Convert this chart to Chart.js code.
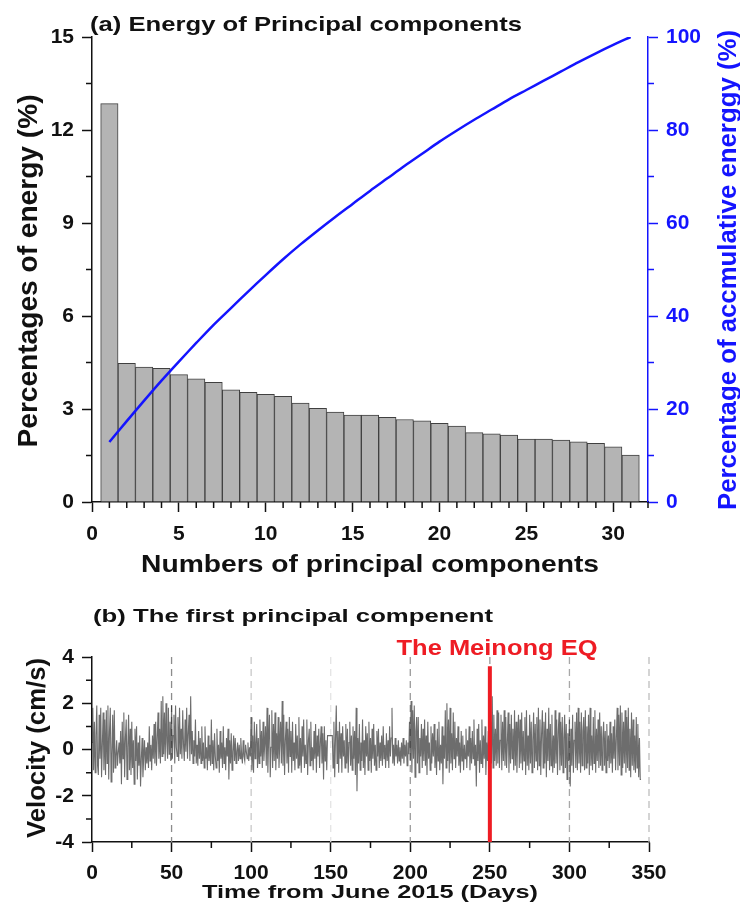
<!DOCTYPE html>
<html>
<head>
<meta charset="utf-8">
<script src="https://cdn.jsdelivr.net/npm/chart.js@4.4.0/dist/chart.umd.min.js"></script>
<style>
  html, body { margin: 0; padding: 0; background: #fff; }
  #painel { position: relative; width: 740px; height: 918px; }
  canvas { position: absolute; left: 0; }
  #graficoA { top: 0; }
  #graficoB { top: 585px; }
</style>
</head>
<body>
<div id="painel">
  <canvas id="graficoA" width="740" height="585"></canvas>
  <canvas id="graficoB" width="740" height="333"></canvas>
</div>
<script>
// ---- dados do painel (a): energia dos componentes principais ----
const componentes = [1, 2, 3, 4, 5, 6, 7, 8, 9, 10, 11, 12, 13, 14, 15, 16,
  17, 18, 19, 20, 21, 22, 23, 24, 25, 26, 27, 28, 29, 30, 31];
const energia = [12.85, 4.47, 4.35, 4.31, 4.11, 3.97, 3.86, 3.62, 3.54, 3.47, 3.41,
  3.19, 3.02, 2.90, 2.80, 2.80, 2.73, 2.66, 2.62, 2.54, 2.45, 2.24, 2.20, 2.16,
  2.03, 2.03, 2.00, 1.94, 1.89, 1.78, 1.51];
const acumulada = [12.9, 17.4, 21.8, 26.1, 30.2, 34.2, 38.1, 41.7, 45.3, 48.8, 52.2,
  55.4, 58.4, 61.3, 64.1, 66.9, 69.6, 72.3, 74.9, 77.5, 79.9, 82.2, 84.4, 86.6,
  88.6, 90.6, 92.6, 94.6, 96.5, 98.3, 100];
const ticksEnergia = [0, 3, 6, 9, 12, 15];
const ticksAcumulada = [0, 20, 40, 60, 80, 100];

// ---- dados do painel (b): primeira componente principal ----
const diaInicial = 0;
const passoDias = 0.5;
const velocidade = [
  0.3, 1.8, -0.9, 1.2, -1.0, 0.6, 1.9, -0.7, -1.1, 1.5,
  -0.4, 1.8, -1.2, 0.2, 1.6, -0.9, 1.3, -1.1, 1.7, -0.6,
  1.9, -1.3, 0.8, 1.8, -1.4, -0.2, 1.5, -1.0, 1.7, -0.8,
  -0.3, 0.4, -0.7, -0.1, 0.3, -0.6, 0.8, -1.5, 1.2, -0.4,
  1.6, -1.2, 0.5, 1.3, -1.3, 0.1, 1.5, -0.9, 0.9, -1.1,
  1.2, -0.8, 0.4, -1.5, 0.9, -0.5, 1.0, -1.3, 0.3, -0.7,
  0.6, -1.6, -0.4, 0.5, -1.2, -0.3, 0.4, -0.9, 0.1, -0.6,
  0.3, -0.8, 1.0, -0.5, 0.2, -0.9, 0.6, -0.4, 1.1, -0.6,
  1.2, -0.7, 0.5, 1.6, -0.4, 0.9, -0.6, 2.1, -0.3, 2.3,
  -0.2, 1.6, -0.5, 2.0, 0.3, -0.4, 1.8, -0.2, 1.2, -0.5,
  1.9, -0.4, 0.6, 1.5, -0.6, 1.9, 0.1, -0.3, 1.4, -0.5,
  1.8, -0.2, 0.9, -0.4, 1.7, 0.2, -0.5, 1.3, -0.1, 1.8,
  -0.4, 0.7, 1.5, -0.5, 2.3, -0.2, 0.8, -0.6, 0.4, -0.3,
  1.3, -0.6, 0.2, -0.7, 0.8, -0.4, 0.5, -0.6, 1.0, -0.5,
  0.3, -0.8, 1.0, -0.4, 0.1, -0.9, 0.6, -0.5, 0.2, -0.7,
  1.3, -0.6, 0.4, -0.9, 0.7, -0.3, -0.8, 0.9, -0.5, 0.2,
  -1.0, 0.8, -0.4, 0.3, -0.8, 1.0, -0.6, 0.1, -0.9, 0.5,
  -0.3, 0.9, -1.3, 0.4, -0.6, 0.7, -0.9, -0.1, 0.6, -0.5,
  0.5, -0.6, -0.1, 0.3, -0.5, 0.2, -0.4, 0.5, -0.2, -0.6,
  0.4, -0.3, -0.5, 0.2, -0.1, -0.4, 0.3, -0.5, 0.1, -0.3,
  1.4, -0.9, 0.6, -1.0, 1.2, -0.4, 0.3, 1.1, -0.8, 0.5,
  -0.6, 1.3, -0.3, 0.8, -0.8, 1.2, -0.5, 0.2, 1.0, -0.7,
  1.8, -1.0, 0.5, 1.5, -1.2, 0.1, 1.7, -0.8, 1.1, -0.5,
  1.6, -0.9, 0.7, -0.4, 1.4, -0.8, 0.3, 1.2, -0.6, 2.1,
  -0.7, 1.5, -1.1, 0.4, 1.2, -0.6, 0.9, -1.0, 1.4, -0.3,
  0.8, -1.0, 1.2, -0.5, 0.3, -0.9, 1.1, -0.4, 0.6, -0.8,
  1.4, -0.7, 0.5, -1.0, 1.0, -0.3, 1.3, -0.8, 0.2, -0.6,
  1.3, -1.1, 0.4, 0.9, -0.7, 1.2, -0.5, 0.1, -0.9, 0.8,
  -0.4, 1.1, -1.0, 0.6, -0.3, 0.9, -0.8, 0.3, 1.0, -0.6,
  0.7, -1.3, 1.0, -0.5, 0.4, -0.9, 0.6, 0.6, 0.6, 0.6,
  0.6, 0.6, 0.6, -0.8, 1.2, -1.2, 0.5, 1.9, -0.6, 0.8,
  -1.0, 1.2, -0.4, 0.7, -1.0, 1.0, -0.3, 0.4, -0.8, 1.1,
  -0.6, 0.9, -1.0, 0.3, 1.2, -0.7, 0.6, -0.9, 1.0, -0.4,
  0.8, -1.1, 1.8, -1.8, 0.5, -0.6, 1.1, -0.9, 0.3, -0.5,
  1.3, -0.8, 0.4, -1.1, 1.0, -0.3, 0.7, -0.9, 1.2, -0.5,
  0.5, -1.0, 0.9, -0.4, 1.1, -0.7, 0.2, -0.9, 0.8, -0.3,
  0.9, -0.8, 0.3, -0.5, 0.6, -0.7, 1.0, -0.4, 0.2, -0.8,
  0.7, -0.5, 0.4, -0.8, 1.0, -0.3, 0.5, 1.8, -0.6, 0.2,
  -0.7, 0.5, -0.3, 0.2, -0.6, 0.4, -0.5, 0.1, -0.7, 0.3,
  -0.4, 0.5, -0.6, 0.2, -0.3, 0.4, -0.7, 0.3, -0.2, 1.2,
  -0.5, 2.1, -1.0, 1.7, -0.4, 1.9, -1.2, 0.8, 1.4, -0.6,
  1.4, -1.0, 0.5, -0.3, 1.1, -0.8, 0.9, -0.5, 1.3, -0.7,
  0.6, -1.1, 1.2, -0.4, 0.3, -0.9, 1.0, -0.6, 0.7, -0.3,
  1.1, -0.8, 0.4, -1.1, 0.9, -0.5, 1.2, -0.9, 0.2, -0.6,
  1.0, -1.5, 0.6, -0.4, 1.7, -0.8, 2.0, -0.5, 1.3, -1.0,
  1.8, -0.6, 0.7, -0.9, 1.6, -0.4, 1.2, -0.8, 0.5, -0.3,
  1.0, -0.7, 0.3, -1.0, 0.8, -0.5, 0.6, -0.9, 0.2, -0.4,
  0.9, -0.8, 0.4, -0.3, 1.0, -0.9, 0.5, -0.6, 0.8, -0.4,
  1.3, -0.7, 0.2, -1.6, 0.9, -0.5, 1.1, -1.0, 0.4, -0.6,
  1.3, -0.8, 0.6, -0.4, 1.0, -1.1, 0.3, -0.5, 0.8, -0.2,
  -0.3, 1.2, -0.6, 2.3, -0.8, 1.5, -0.5, 0.9, -0.7, 1.7,
  -0.6, 1.6, -0.8, 0.4, 1.5, -0.9, 1.2, -0.5, 1.7, -0.7,
  1.4, -0.8, 0.3, 1.6, -1.0, 1.1, -0.6, 1.5, -0.4, 0.9,
  -0.9, 1.7, -0.7, 1.2, -1.0, 0.5, 1.5, -0.8, 1.3, -0.6,
  1.6, -0.9, 0.8, -0.5, 1.4, -1.1, 1.7, -0.7, 0.6, -0.9,
  1.5, -0.6, 1.2, -1.0, 0.4, 1.6, -0.8, 1.1, -0.5, 1.4,
  -0.9, 1.8, -0.7, 1.3, -1.1, 0.7, 1.7, -0.8, 1.2, -0.6,
  1.6, -1.2, 0.9, -0.5, 1.8, -0.9, 1.1, -0.7, 1.5, -1.0,
  0.6, -0.8, 1.7, -0.6, 1.3, -1.1, 0.8, 1.6, -0.9, 1.2,
  -0.7, 1.4, -1.0, 0.5, 1.5, -0.8, 1.1, -1.3, 0.7, -0.5,
  1.3, -1.6, 0.9, -0.7, 1.5, -1.0, 0.4, 1.2, -0.8, 1.6,
  -0.9, 1.8, -0.6, 1.2, -1.0, 1.6, -0.7, 0.8, 1.4, -0.9,
  1.7, -0.8, 1.0, -0.6, 1.5, -1.1, 1.8, -0.7, 0.6, -0.9,
  1.4, -0.6, 1.7, -1.0, 0.9, -0.5, 1.3, -0.8, 1.6, -0.7,
  1.0, -0.9, 0.5, 1.2, -0.7, 0.8, -1.0, 1.1, -0.5, 0.6,
  -0.8, 1.2, -0.6, 0.7, -1.0, 1.0, -0.4, 1.3, -0.9, 0.5,
  1.8, -0.9, 1.5, -0.7, 1.9, -1.1, 1.6, -0.8, 1.2, -0.6,
  1.7, -1.0, 1.4, -0.8, 1.8, -0.9, 0.9, -1.2, 1.6, -0.7,
  1.3, -0.9, 0.6, -1.0, 1.4, -0.8, 1.1, -1.2, 0.5, -1.3,
  -1.3
];
const diaTerremoto = 250;
const topoTerremoto = 3.6;
const diasTracejados = [50, 100, 150, 200, 250, 300, 350];
const ticksDias = [0, 50, 100, 150, 200, 250, 300, 350];
const ticksVelocidade = [-4, -2, 0, 2, 4];

// ---- estilos ----
const FONTE = '"Liberation Sans", Arial, sans-serif';
const AZUL = '#1414ff';
const PRETO = '#111111';
const coresTracejado = ['#8c8c8c', '#c8c8c8', '#e4e4e4', '#9a9a9a', '#9a9a9a', '#a8a8a8', '#bdbdbd'];

// valores para as marcas menores dos eixos (so posicoes de ticks)
function valoresEntre(de, ate, passo, pular) {
  const v = [];
  for (let x = de; x <= ate + 1e-9; x += passo) {
    if (!pular || Math.abs(x / pular - Math.round(x / pular)) > 1e-6) v.push(x);
  }
  return v;
}

// Desenha marcas menores dos eixos
function pluginMarcasMenores(marcas) {
  return {
    id: 'marcasMenores',
    afterDraw(chart) {
      const ctx = chart.ctx;
      ctx.save();
      ctx.lineWidth = 1.5;
      marcas.forEach(m => {
        const escala = chart.scales[m.eixo];
        ctx.strokeStyle = m.cor;
        ctx.beginPath();
        m.valores.forEach(v => {
          const p = escala.getPixelForValue(v);
          if (m.lado === 'baixo') {
            ctx.moveTo(p, escala.top);
            ctx.lineTo(p, escala.top + m.comp);
          } else if (m.lado === 'esquerda') {
            ctx.moveTo(escala.right, p);
            ctx.lineTo(escala.right - m.comp, p);
          } else {
            ctx.moveTo(escala.left, p);
            ctx.lineTo(escala.left + m.comp, p);
          }
        });
        ctx.stroke();
      });
      ctx.restore();
    }
  };
}

// Textos (titulos e rotulos dos eixos), com largura ajustada
function pluginTextos(itens) {
  return {
    id: 'textos',
    afterDraw(chart) {
      const ctx = chart.ctx;
      itens.forEach(t => {
        ctx.save();
        ctx.font = t.fonte;
        ctx.fillStyle = t.cor || PRETO;
        ctx.textAlign = t.alinhar || 'left';
        ctx.textBaseline = 'alphabetic';
        ctx.translate(t.x, t.y);
        if (t.rot) ctx.rotate(t.rot);
        if (t.largura) {
          const w = ctx.measureText(t.texto).width;
          ctx.scale(t.largura / w, 1);
        }
        ctx.fillText(t.texto, 0, 0);
        ctx.restore();
      });
    }
  };
}

// Linhas verticais tracejadas do painel (b)
const pluginTracejado = {
  id: 'tracejado',
  beforeDatasetsDraw(chart) {
    const { ctx, chartArea, scales } = chart;
    ctx.save();
    ctx.setLineDash([7, 5]);
    ctx.lineWidth = 1.3;
    diasTracejados.forEach((d, i) => {
      const x = scales.x.getPixelForValue(d);
      ctx.strokeStyle = coresTracejado[i];
      ctx.beginPath();
      ctx.moveTo(x, chartArea.top);
      ctx.lineTo(x, chartArea.bottom);
      ctx.stroke();
    });
    ctx.restore();
  }
};

const fonteTick = { family: FONTE, size: 21, weight: 'bold' };

// ---------------- Painel (a) ----------------
new Chart(document.getElementById('graficoA'), {
  type: 'bar',
  data: {
    datasets: [
      {
        type: 'line',
        data: componentes.map((c, i) => ({ x: c, y: acumulada[i] })),
        yAxisID: 'y1',
        borderColor: AZUL,
        borderWidth: 2.5,
        pointRadius: 0,
        tension: 0.3,
        order: 0
      },
      {
        type: 'bar',
        data: componentes.map((c, i) => ({ x: c, y: energia[i] })),
        yAxisID: 'y',
        backgroundColor: '#b4b4b4',
        borderColor: '#404040',
        borderWidth: 1,
        barPercentage: 1,
        categoryPercentage: 1,
        order: 1
      }
    ]
  },
  options: {
    responsive: false,
    animation: false,
    layout: { padding: { top: 37, left: 0, right: 0, bottom: 0 } },
    plugins: { legend: { display: false }, tooltip: { enabled: false } },
    scales: {
      x: {
        type: 'linear',
        min: 0,
        max: 32,
        offset: false,
        afterFit(s) { s.height = 83; },
        grid: { drawOnChartArea: false, offset: false, tickLength: 10, tickColor: PRETO, tickWidth: 1.5 },
        border: { color: PRETO, width: 1.5 },
        ticks: { stepSize: 5, includeBounds: false, autoSkip: false, maxRotation: 0, padding: 10, color: PRETO, font: fonteTick }
      },
      y: {
        position: 'left',
        min: 0,
        max: 15,
        afterFit(s) { s.width = 92; },
        afterBuildTicks(s) { s.ticks = ticksEnergia.map(v => ({ value: v })); },
        grid: { drawOnChartArea: false, tickLength: 10, tickColor: PRETO, tickWidth: 1.5 },
        border: { color: PRETO, width: 1.5 },
        ticks: { padding: 8, color: PRETO, font: fonteTick }
      },
      y1: {
        position: 'right',
        min: 0,
        max: 100,
        afterFit(s) { s.width = 92; },
        afterBuildTicks(s) { s.ticks = ticksAcumulada.map(v => ({ value: v })); },
        grid: { drawOnChartArea: false, tickLength: 10, tickColor: AZUL, tickWidth: 1.5 },
        border: { color: AZUL, width: 1.5 },
        ticks: { padding: 8, color: AZUL, font: fonteTick }
      }
    }
  },
  plugins: [
    pluginMarcasMenores([
      { eixo: 'x', lado: 'baixo', comp: 6, cor: PRETO, valores: valoresEntre(1, 32, 1, 5) },
      { eixo: 'y', lado: 'esquerda', comp: 6, cor: PRETO, valores: valoresEntre(1.5, 15, 3) },
      { eixo: 'y1', lado: 'direita', comp: 6, cor: AZUL, valores: valoresEntre(10, 100, 20) }
    ]),
    pluginTextos([
      { texto: '(a) Energy of Principal components', fonte: `bold 21px ${FONTE}`, x: 90, y: 31, largura: 432 },
      { texto: 'Numbers of principal components', fonte: `bold 24px ${FONTE}`, x: 370, y: 572, alinhar: 'center', largura: 458 },
      { texto: 'Percentages of energy (%)', fonte: `bold 27px ${FONTE}`, x: 37, y: 271, alinhar: 'center', rot: -Math.PI / 2, largura: 353 },
      { texto: 'Percentage of accmulative energgy (%)', fonte: `bold 25px ${FONTE}`, x: 736, y: 270, alinhar: 'center', rot: -Math.PI / 2, largura: 480, cor: AZUL }
    ])
  ]
});

// ---------------- Painel (b) ----------------
new Chart(document.getElementById('graficoB'), {
  type: 'line',
  data: {
    datasets: [
      {
        data: [{ x: diaTerremoto, y: topoTerremoto }, { x: diaTerremoto, y: ticksVelocidade[0] }],
        borderColor: '#ee1c24',
        borderWidth: 4,
        pointRadius: 0,
        order: 0
      },
      {
        data: velocidade.map((v, i) => ({ x: diaInicial + i * passoDias, y: v })),
        borderColor: 'rgba(40,40,40,0.68)',
        borderWidth: 1.1,
        pointRadius: 0,
        tension: 0,
        order: 1
      }
    ]
  },
  options: {
    responsive: false,
    animation: false,
    layout: { padding: { top: 72, left: 0, right: 91, bottom: 0 } },
    plugins: { legend: { display: false }, tooltip: { enabled: false } },
    scales: {
      x: {
        type: 'linear',
        min: 0,
        max: 350,
        afterFit(s) { s.height = 76; },
        afterBuildTicks(s) { s.ticks = ticksDias.map(v => ({ value: v })); },
        grid: { drawOnChartArea: false, tickLength: 10, tickColor: PRETO, tickWidth: 1.5 },
        border: { color: PRETO, width: 1.5 },
        ticks: { autoSkip: false, maxRotation: 0, padding: 9, color: PRETO, font: fonteTick }
      },
      y: {
        min: -4,
        max: 4,
        afterFit(s) { s.width = 92; },
        afterBuildTicks(s) { s.ticks = ticksVelocidade.map(v => ({ value: v })); },
        grid: { drawOnChartArea: false, tickLength: 10, tickColor: PRETO, tickWidth: 1.5 },
        border: { color: PRETO, width: 1.5 },
        ticks: { padding: 8, color: PRETO, font: fonteTick }
      }
    }
  },
  plugins: [
    pluginTracejado,
    pluginMarcasMenores([
      { eixo: 'x', lado: 'baixo', comp: 6, cor: PRETO, valores: valoresEntre(25, 350, 50) },
      { eixo: 'y', lado: 'esquerda', comp: 6, cor: PRETO, valores: valoresEntre(-3, 4, 2) }
    ]),
    pluginTextos([
      { texto: '(b) The first principal compenent', fonte: `bold 19px ${FONTE}`, x: 93, y: 37, largura: 400 },
      { texto: 'The Meinong EQ', fonte: `bold 22px ${FONTE}`, x: 497, y: 70, alinhar: 'center', largura: 201, cor: '#ee1c24' },
      { texto: 'Time from June 2015 (Days)', fonte: `bold 19px ${FONTE}`, x: 370, y: 313, alinhar: 'center', largura: 336 },
      { texto: 'Velocity (cm/s)', fonte: `bold 25px ${FONTE}`, x: 45, y: 163, alinhar: 'center', rot: -Math.PI / 2, largura: 180 }
    ])
  ]
});
</script>
</body>
</html>
